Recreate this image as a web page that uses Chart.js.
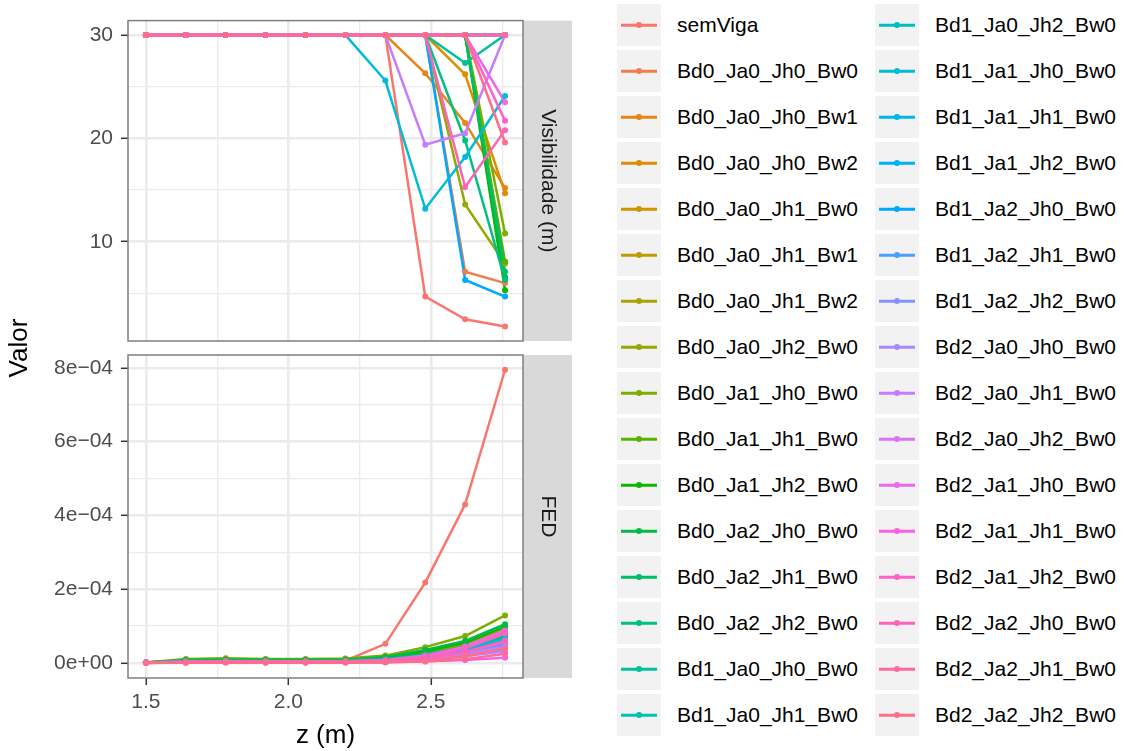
<!DOCTYPE html>
<html>
<head>
<meta charset="utf-8">
<script src="https://cdn.jsdelivr.net/npm/chart.js@4.4.1/dist/chart.umd.min.js"></script>
<style>
  body { margin: 0; background: #fff; font-family: "Liberation Sans", Arial, Helvetica, sans-serif; }
  #wrap { position: relative; width: 1124px; height: 751px; overflow: hidden; background: #fff; }
  #wrap canvas { position: absolute; left: 0; top: 0; }
  #legend { position: absolute; left: 617px; top: 4px; display: flex; }
  .col { width: 258px; }
  .item { display: flex; align-items: center; height: 42px; margin-bottom: 4px; }
  .key { position: relative; width: 44px; height: 42px; background: #F2F2F2; flex: none; }
  .key .ln { position: absolute; left: 4px; right: 4px; top: 50%; height: 2.5px; transform: translateY(-50%); }
  .key .pt { position: absolute; left: 50%; top: 50%; width: 6px; height: 6px; border-radius: 50%; transform: translate(-50%, -50%); }
  .lbl { margin-left: 16px; font-size: 21px; color: #000; white-space: nowrap; }
</style>
</head>
<body>
<div id="wrap">
  <canvas id="visChart" width="600" height="751"></canvas>
  <canvas id="fedChart" width="600" height="751"></canvas>
  <div id="legend"></div>
</div>
<script>
// x positions (m)
const zValues = [1.5, 1.64, 1.78, 1.92, 2.06, 2.2, 2.34, 2.48, 2.62, 2.76];

const seriesNames = [
  "semViga",
  "Bd0_Ja0_Jh0_Bw0", "Bd0_Ja0_Jh0_Bw1", "Bd0_Ja0_Jh0_Bw2",
  "Bd0_Ja0_Jh1_Bw0", "Bd0_Ja0_Jh1_Bw1", "Bd0_Ja0_Jh1_Bw2",
  "Bd0_Ja0_Jh2_Bw0",
  "Bd0_Ja1_Jh0_Bw0", "Bd0_Ja1_Jh1_Bw0", "Bd0_Ja1_Jh2_Bw0",
  "Bd0_Ja2_Jh0_Bw0", "Bd0_Ja2_Jh1_Bw0", "Bd0_Ja2_Jh2_Bw0",
  "Bd1_Ja0_Jh0_Bw0", "Bd1_Ja0_Jh1_Bw0", "Bd1_Ja0_Jh2_Bw0",
  "Bd1_Ja1_Jh0_Bw0", "Bd1_Ja1_Jh1_Bw0", "Bd1_Ja1_Jh2_Bw0",
  "Bd1_Ja2_Jh0_Bw0", "Bd1_Ja2_Jh1_Bw0", "Bd1_Ja2_Jh2_Bw0",
  "Bd2_Ja0_Jh0_Bw0", "Bd2_Ja0_Jh1_Bw0", "Bd2_Ja0_Jh2_Bw0",
  "Bd2_Ja1_Jh0_Bw0", "Bd2_Ja1_Jh1_Bw0", "Bd2_Ja1_Jh2_Bw0",
  "Bd2_Ja2_Jh0_Bw0", "Bd2_Ja2_Jh1_Bw0", "Bd2_Ja2_Jh2_Bw0"
];

// Visibilidade (m), one row per series, same order as seriesNames
const visibilidade = [
  [30, 30, 30, 30, 30, 30, 30, 4.7, 2.5, 1.8],
  [30, 30, 30, 30, 30, 30, 30, 30, 7.1, 6.0],
  [30, 30, 30, 30, 30, 30, 30, 26.3, 21.5, 15.2],
  [30, 30, 30, 30, 30, 30, 30, 30, 26.2, 14.7],
  [30, 30, 30, 30, 30, 30, 30, 30, 30, 30],
  [30, 30, 30, 30, 30, 30, 30, 30, 30, 30],
  [30, 30, 30, 30, 30, 30, 30, 30, 30, 30],
  [30, 30, 30, 30, 30, 30, 30, 30, 13.6, 7.9],
  [30, 30, 30, 30, 30, 30, 30, 30, 30, 10.8],
  [30, 30, 30, 30, 30, 30, 30, 30, 30, 8.1],
  [30, 30, 30, 30, 30, 30, 30, 30, 30, 5.3],
  [30, 30, 30, 30, 30, 30, 30, 30, 30, 6.6],
  [30, 30, 30, 30, 30, 30, 30, 30, 30, 7.1],
  [30, 30, 30, 30, 30, 30, 30, 30, 19.8, 6.3],
  [30, 30, 30, 30, 30, 30, 30, 30, 27.3, 30],
  [30, 30, 30, 30, 30, 30, 30, 30, 30, 30],
  [30, 30, 30, 30, 30, 30, 30, 30, 30, 30],
  [30, 30, 30, 30, 30, 30, 25.6, 13.2, 18.2, 24.1],
  [30, 30, 30, 30, 30, 30, 30, 30, 30, 30],
  [30, 30, 30, 30, 30, 30, 30, 30, 30, 30],
  [30, 30, 30, 30, 30, 30, 30, 30, 6.3, 4.7],
  [30, 30, 30, 30, 30, 30, 30, 30, 30, 30],
  [30, 30, 30, 30, 30, 30, 30, 30, 30, 30],
  [30, 30, 30, 30, 30, 30, 30, 30, 30, 30],
  [30, 30, 30, 30, 30, 30, 30, 19.4, 20.5, 30],
  [30, 30, 30, 30, 30, 30, 30, 30, 30, 30],
  [30, 30, 30, 30, 30, 30, 30, 30, 30, 23.5],
  [30, 30, 30, 30, 30, 30, 30, 30, 30, 30],
  [30, 30, 30, 30, 30, 30, 30, 30, 30, 21.7],
  [30, 30, 30, 30, 30, 30, 30, 30, 15.3, 20.8],
  [30, 30, 30, 30, 30, 30, 30, 30, 30, 30],
  [30, 30, 30, 30, 30, 30, 30, 30, 30, 19.6]
];

// FED, read in units of 1e-4, same order as seriesNames
const FED_UNIT = 1e-4;
const fedE4 = [
  [0.02, 0.04, 0.05, 0.05, 0.05, 0.06, 0.52, 2.18, 4.30, 7.95],
  [0.01, 0.05, 0.06, 0.06, 0.06, 0.06, 0.11, 0.26, 0.50, 0.88],
  [0.01, 0.05, 0.06, 0.06, 0.06, 0.06, 0.11, 0.25, 0.47, 0.85],
  [0.01, 0.06, 0.07, 0.07, 0.07, 0.07, 0.13, 0.29, 0.52, 0.92],
  [0.01, 0.04, 0.05, 0.05, 0.05, 0.05, 0.09, 0.20, 0.38, 0.66],
  [0.01, 0.04, 0.05, 0.04, 0.04, 0.05, 0.08, 0.18, 0.34, 0.60],
  [0.01, 0.04, 0.04, 0.04, 0.04, 0.04, 0.08, 0.17, 0.31, 0.55],
  [0.01, 0.07, 0.08, 0.07, 0.07, 0.08, 0.13, 0.29, 0.50, 0.82],
  [0.01, 0.11, 0.13, 0.11, 0.11, 0.12, 0.20, 0.43, 0.73, 1.29],
  [0.01, 0.06, 0.07, 0.07, 0.07, 0.07, 0.12, 0.26, 0.45, 0.78],
  [0.01, 0.07, 0.08, 0.08, 0.08, 0.08, 0.14, 0.32, 0.55, 0.98],
  [0.01, 0.08, 0.09, 0.08, 0.08, 0.09, 0.16, 0.35, 0.60, 1.05],
  [0.01, 0.05, 0.06, 0.06, 0.06, 0.06, 0.11, 0.24, 0.42, 0.74],
  [0.01, 0.05, 0.06, 0.05, 0.05, 0.06, 0.10, 0.22, 0.40, 0.70],
  [0.01, 0.03, 0.04, 0.04, 0.04, 0.04, 0.02, 0.15, 0.30, 0.62],
  [0.01, 0.03, 0.04, 0.03, 0.03, 0.04, 0.06, 0.14, 0.28, 0.52],
  [0.01, 0.03, 0.03, 0.03, 0.03, 0.03, 0.06, 0.13, 0.26, 0.48],
  [0.01, 0.04, 0.05, 0.04, 0.04, 0.05, 0.08, 0.18, 0.36, 0.65],
  [0.01, 0.03, 0.03, 0.03, 0.03, 0.03, 0.05, 0.12, 0.24, 0.44],
  [0.01, 0.02, 0.03, 0.03, 0.03, 0.03, 0.05, 0.11, 0.22, 0.40],
  [0.01, 0.03, 0.04, 0.04, 0.04, 0.04, 0.07, 0.15, 0.30, 0.50],
  [0.01, 0.02, 0.03, 0.02, 0.02, 0.03, 0.04, 0.10, 0.20, 0.36],
  [0.01, 0.02, 0.03, 0.02, 0.02, 0.03, 0.05, 0.12, 0.25, 0.46],
  [0.01, 0.02, 0.02, 0.02, 0.02, 0.02, 0.04, 0.09, 0.18, 0.32],
  [0.01, 0.02, 0.03, 0.02, 0.02, 0.03, 0.05, 0.11, 0.24, 0.45],
  [0.01, 0.03, 0.03, 0.03, 0.03, 0.03, 0.06, 0.14, 0.30, 0.56],
  [0.01, 0.04, 0.05, 0.04, 0.04, 0.05, 0.08, 0.20, 0.45, 0.88],
  [0.01, 0.01, 0.02, 0.01, 0.01, 0.02, 0.02, 0.05, 0.08, 0.14],
  [0.01, 0.03, 0.04, 0.04, 0.04, 0.04, 0.07, 0.17, 0.40, 0.80],
  [0.01, 0.02, 0.03, 0.03, 0.03, 0.03, 0.05, 0.12, 0.30, 0.60],
  [0.00, 0.01, 0.01, 0.01, 0.01, 0.01, 0.02, 0.04, 0.10, 0.25],
  [0.00, 0.01, 0.01, 0.01, 0.01, 0.01, 0.03, 0.06, 0.18, 0.40]
];

// axis ticks
const zTicks = [1.5, 2.0, 2.5];
const zTickLabels = ["1.5", "2.0", "2.5"];
const zMinor = [1.75, 2.25, 2.75];
const visTicks = [10, 20, 30];
const visTickLabels = ["10", "20", "30"];
const visMinor = [5, 15, 25];
const fedTicks = [0, 2e-4, 4e-4, 6e-4, 8e-4];
const fedTickLabels = ["0e+00", "2e\u221204", "4e\u221204", "6e\u221204", "8e\u221204"];
const fedMinor = [1e-4, 3e-4, 5e-4, 7e-4];

const FONT = "'Liberation Sans', Arial, Helvetica, sans-serif";
Chart.defaults.font.family = FONT;

// ggplot2 default hue palette (hcl, c = 100, l = 65)
function hcl(h, c, l) {
  const hr = h * Math.PI / 180;
  const U = c * Math.cos(hr), V = c * Math.sin(hr);
  const Xn = 95.047, Yn = 100, Zn = 108.883;
  const den = Xn + 15 * Yn + 3 * Zn;
  const un = 4 * Xn / den, vn = 9 * Yn / den;
  const Y = Yn * (l > 8 ? Math.pow((l + 16) / 116, 3) : l / 903.2963);
  const u = U / (13 * l) + un, v = V / (13 * l) + vn;
  const X = 9 * Y * u / (4 * v);
  const Z = -X / 3 - 5 * Y + 3 * Y / v;
  const lin = [
    3.240479 * X - 1.537150 * Y - 0.498535 * Z,
    -0.969256 * X + 1.875992 * Y + 0.041556 * Z,
    0.055648 * X - 0.204043 * Y + 1.057311 * Z
  ];
  return "#" + lin.map(function (t) {
    t = t / 100;
    t = t <= 0.0031308 ? 12.92 * t : 1.055 * Math.pow(t, 1 / 2.4) - 0.055;
    const n = Math.round(Math.min(1, Math.max(0, t)) * 255);
    return n.toString(16).padStart(2, "0");
  }).join("");
}
const palette = seriesNames.map((_, i) => hcl(15 + i * 360 / seriesNames.length, 100, 65));

// line layer first, points on top, later series above earlier ones (as ggplot)
function buildDatasets(rows, unit) {
  const n = rows.length;
  const lines = [], points = [];
  rows.forEach(function (row, i) {
    const data = zValues.map((z, k) => ({ x: z, y: row[k] * unit }));
    lines.push({
      label: seriesNames[i], data: data, borderColor: palette[i], borderWidth: 2.5,
      pointRadius: 0, tension: 0, order: 2 * n - i
    });
    points.push({
      label: seriesNames[i], data: data, showLine: false, pointRadius: 3,
      pointBackgroundColor: palette[i], pointBorderWidth: 0, order: n - i
    });
  });
  return lines.concat(points);
}

function setTicks(major, minor) {
  return function (scale) {
    scale.ticks = major.concat(minor).sort((a, b) => a - b).map(v => ({ value: v }));
  };
}
function gridOpts(major) {
  return {
    color: "#EBEBEB",
    lineWidth: ctx => (major.indexOf(ctx.tick && ctx.tick.value) >= 0 ? 2.6 : 1.3),
    tickColor: ctx => (major.indexOf(ctx.tick && ctx.tick.value) >= 0 ? "#333333" : "rgba(0,0,0,0)"),
    tickWidth: 1.5,
    tickLength: 7
  };
}
function labelOpts(major, labels, pad) {
  return {
    autoSkip: false, maxRotation: 0, padding: pad, color: "#4D4D4D",
    font: { size: 21 },
    callback: function (value) {
      const k = major.indexOf(value);
      return k >= 0 ? labels[k] : "";
    }
  };
}

// panel border + facet strip on the right
function panelPlugin(stripText) {
  return {
    id: "panel",
    afterDatasetsDraw: function (chart) {
      const a = chart.chartArea, ctx = chart.ctx;
      ctx.save();
      ctx.fillStyle = "#D9D9D9";
      ctx.fillRect(a.right, a.top, 49, a.bottom - a.top);
      ctx.fillStyle = "#1A1A1A";
      ctx.font = "21px " + FONT;
      ctx.textAlign = "center";
      ctx.textBaseline = "middle";
      ctx.translate(a.right + 24.5, (a.top + a.bottom) / 2);
      ctx.rotate(Math.PI / 2);
      ctx.fillText(stripText, 0, 0);
      ctx.restore();
      ctx.save();
      ctx.strokeStyle = "#7F7F7F";
      ctx.lineWidth = 1.5;
      ctx.strokeRect(a.left, a.top, a.right - a.left, a.bottom - a.top);
      ctx.restore();
    }
  };
}

const valorTitle = {
  id: "valorTitle",
  afterDraw: function (chart) {
    const ctx = chart.ctx;
    ctx.save();
    ctx.fillStyle = "#000";
    ctx.font = "26px " + FONT;
    ctx.textAlign = "center";
    ctx.textBaseline = "middle";
    ctx.translate(20, 348);
    ctx.rotate(-Math.PI / 2);
    ctx.fillText("Valor", 0, 0);
    ctx.restore();
  }
};

const xBase = { type: "linear", min: 1.437, max: 2.823, border: { display: false } };

new Chart(document.getElementById("visChart"), {
  type: "line",
  data: { datasets: buildDatasets(visibilidade, 1) },
  options: {
    responsive: false, animation: false, events: [], devicePixelRatio: 1,
    layout: { padding: { top: 18, right: 77, bottom: 410, left: 0 } },
    plugins: { legend: { display: false }, tooltip: { enabled: false } },
    scales: {
      x: Object.assign({}, xBase, {
        afterBuildTicks: setTicks(zTicks, zMinor),
        afterFit: s => { s.height = 0; },
        grid: Object.assign(gridOpts(zTicks), { drawTicks: false }),
        ticks: { display: false }
      }),
      y: {
        type: "linear", min: 0.4, max: 31.4, border: { display: false },
        afterBuildTicks: setTicks(visTicks, visMinor),
        afterFit: s => { s.width = 128; },
        grid: gridOpts(visTicks),
        ticks: labelOpts(visTicks, visTickLabels, 8)
      }
    }
  },
  plugins: [panelPlugin("Visibilidade (m)")]
});

new Chart(document.getElementById("fedChart"), {
  type: "line",
  data: { datasets: buildDatasets(fedE4, FED_UNIT) },
  options: {
    responsive: false, animation: false, events: [], devicePixelRatio: 1,
    layout: { padding: { top: 355, right: 77, bottom: 0, left: 0 } },
    plugins: { legend: { display: false }, tooltip: { enabled: false } },
    scales: {
      x: Object.assign({}, xBase, {
        afterBuildTicks: setTicks(zTicks, zMinor),
        afterFit: s => { s.height = 73; },
        grid: gridOpts(zTicks),
        ticks: labelOpts(zTicks, zTickLabels, 5),
        title: { display: true, text: "z (m)", color: "#000", font: { size: 26 }, padding: { top: 0, bottom: 0 } }
      }),
      y: {
        type: "linear", min: -0.407e-4, max: 8.35e-4, border: { display: false },
        afterBuildTicks: setTicks(fedTicks, fedMinor),
        afterFit: s => { s.width = 128; },
        grid: gridOpts(fedTicks),
        ticks: labelOpts(fedTicks, fedTickLabels, 8)
      }
    }
  },
  plugins: [panelPlugin("FED"), valorTitle]
});

// legend: two columns, filled column by column
const legend = document.getElementById("legend");
const perCol = Math.ceil(seriesNames.length / 2);
for (let c = 0; c < 2; c++) {
  const col = document.createElement("div");
  col.className = "col";
  seriesNames.slice(c * perCol, (c + 1) * perCol).forEach(function (name, j) {
    const color = palette[c * perCol + j];
    const item = document.createElement("div");
    item.className = "item";
    item.innerHTML = '<div class="key"><div class="ln" style="background:' + color + '"></div>' +
      '<div class="pt" style="background:' + color + '"></div></div><span class="lbl"></span>';
    item.querySelector(".lbl").textContent = name;
    col.appendChild(item);
  });
  legend.appendChild(col);
}
</script>
</body>
</html>
